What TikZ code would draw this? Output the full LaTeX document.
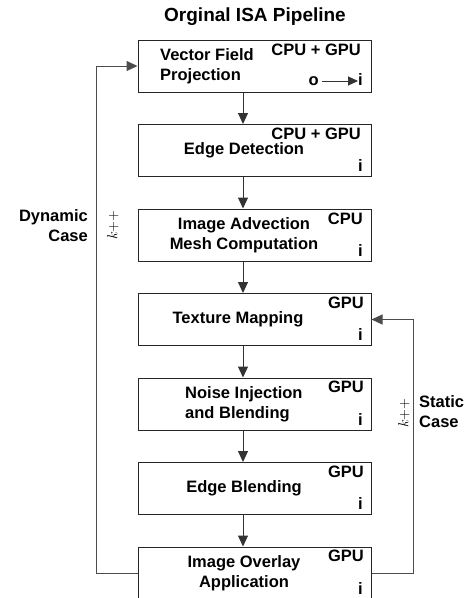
\documentclass[tikz,border=0pt]{standalone}
\usepackage{fontspec}
\setmainfont{Liberation Sans}
\usetikzlibrary{arrows.meta,calc}
\tikzset{
  box/.style={draw=black!85, line width=1pt, minimum width=233pt, minimum height=52pt, inner sep=0pt},
  txt/.style={font=\fontsize{16.5}{20}\selectfont\bfseries, inner sep=0pt, align=center},
  tag/.style={font=\fontsize{16.5}{20}\selectfont\bfseries, inner sep=0pt, anchor=base east},
  arr/.style={draw=black!80, line width=1pt, -{Triangle[length=11pt,width=10pt]}},
  loop/.style={draw=black!70, line width=1pt, -{Triangle[length=11pt,width=10pt]}},
}
\begin{document}
\begin{tikzpicture}[x=1pt,y=-1pt]
\useasboundingbox (0,0) rectangle (472,598);
\node[txt, font=\fontsize{19}{22}\selectfont\bfseries] (title) at (255,17) {Orginal ISA Pipeline};
% boxes
\node[box] (b1) at (254.5,66) {};
\node[box] (b2) at (254.5,150.5) {};
\node[box] (b3) at (254.5,235) {};
\node[box] (b4) at (254.5,319.5) {};
\node[box] (b5) at (254.5,404) {};
\node[box] (b6) at (254.5,488.5) {};
\node[box] (b7) at (254.5,573) {};
% main texts
\node[txt, align=left, anchor=west] (t1) at (160,66) {Vector Field\\Projection};
\node[txt] (t2) at (244,150) {Edge Detection};
\node[txt] (t3) at (244,235) {Image Advection\\Mesh Computation};
\node[txt] (t4) at (238,319) {Texture Mapping};
\node[txt, align=left, anchor=west] (t5) at (185,404) {Noise Injection\\and Blending};
\node[txt] (t6) at (244,488) {Edge Blending};
\node[txt] (t7) at (244,573) {Image Overlay\\Application};
% device tags
\node[tag] (d1) at (361,55) {CPU + GPU};
\node[tag] (d2) at (361,139) {CPU + GPU};
\node[tag] (d3) at (363,224) {CPU};
\node[tag] (d4) at (364,308) {GPU};
\node[tag] (d5) at (364,392) {GPU};
\node[tag] (d6) at (364,477) {GPU};
\node[tag] (d7) at (364,561) {GPU};
% i tags
\node[tag] (o1) at (319,85.5) {o};
\node[tag] (i1) at (363,85.5) {i};
\draw[draw=black!80, line width=1pt, -{Triangle[length=10pt,width=9pt]}] (o1.east |- 0,81) ++(3,0) coordinate (oa) -- (i1.west |- oa);
\node[tag] (i2) at (363,171.5) {i};
\node[tag] (i3) at (363,256) {i};
\node[tag] (i4) at (363,340.5) {i};
\node[tag] (i5) at (363,425) {i};
\node[tag] (i6) at (363,509.5) {i};
\node[tag] (i7) at (363,594) {i};
% vertical arrows
\coordinate (ax) at (243,0);
\draw[arr] (b1.south -| ax) -- (b2.north -| ax);
\draw[arr] (b2.south -| ax) -- (b3.north -| ax);
\draw[arr] (b3.south -| ax) -- (b4.north -| ax);
\draw[arr] (b4.south -| ax) -- (b5.north -| ax);
\draw[arr] (b5.south -| ax) -- (b6.north -| ax);
\draw[arr] (b6.south -| ax) -- (b7.north -| ax);
% loops
\coordinate (L) at (96.5,0);
\coordinate (R) at (413,0);
\draw[loop] (b7.west) -- (b7.west -| L) |- (b1.west);
\draw[loop] (b7.east) -- (b7.east -| R) |- (b4.east);
% loop labels
\node[txt, align=right, anchor=east] (dyn) at (88,226) {Dynamic\\Case};
\node[inner sep=0pt, rotate=90, font=\fontsize{15}{18}\selectfont] (k1) at (113,225) {$k{+}{+}$};
\node[txt, align=left, anchor=west] (sta) at (419,412) {Static\\Case};
\node[inner sep=0pt, rotate=90, font=\fontsize{15}{18}\selectfont] (k2) at (404,413) {$k{+}{+}$};
\end{tikzpicture}
\end{document}
